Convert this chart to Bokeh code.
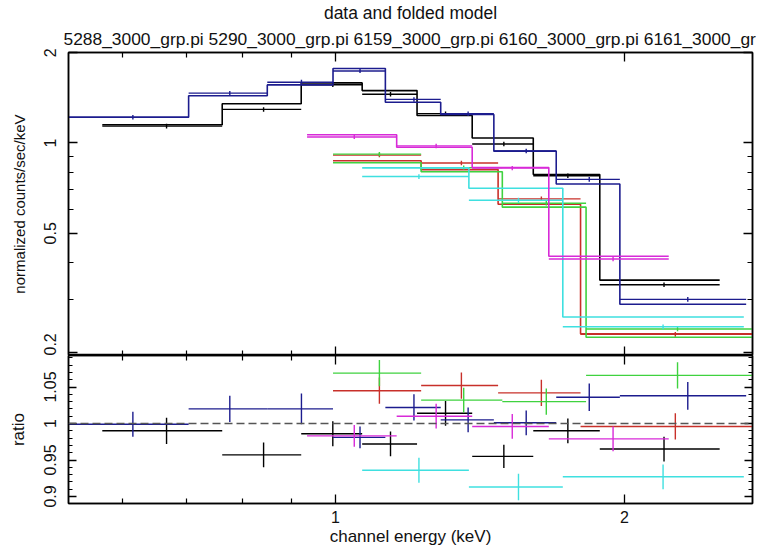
import numpy as np
from bokeh.plotting import figure
from bokeh.layouts import column
from bokeh.models import Range1d, FixedTicker, LogAxis, LinearAxis, Span, Title, CustomJSTickFormatter
from bokeh.embed import file_html
from bokeh.resources import INLINE

# Per-spectrum grouped channels: bin edges (keV), folded model (counts/s/keV),
# data/model ratio and its 1-sigma error.
black_lo = [0.5715, 0.762, 0.921, 1.066, 1.216, 1.388, 1.607, 1.885]
black_hi = [0.762, 0.921, 1.066, 1.216, 1.388, 1.607, 1.885, 2.513]
black_model = [1.150, 1.352, 1.586, 1.495, 1.235, 1.039, 0.785, 0.349]
black_ratio = [0.990, 0.957, 0.986, 0.972, 1.014, 0.955, 0.990, 0.965]
black_rerr = [0.018, 0.017, 0.017, 0.017, 0.017, 0.016, 0.017, 0.017]

red_lo = [0.994, 1.228, 1.477, 1.800]
red_hi = [1.228, 1.477, 1.800, 2.719]
red_model = [0.872, 0.815, 0.625, 0.231]
red_ratio = [1.045, 1.052, 1.042, 0.996]
red_rerr = [0.018, 0.018, 0.018, 0.018]

green_lo = [0.994, 1.228, 1.492, 1.824]
green_hi = [1.228, 1.492, 1.824, 2.719]
green_model = [0.859, 0.802, 0.611, 0.225]
green_ratio = [1.069, 1.032, 1.030, 1.066]
green_rerr = [0.018, 0.017, 0.018, 0.018]

blue_lo = [0.527, 0.703, 0.849, 0.994, 1.127, 1.287, 1.462, 1.698, 1.978]
blue_hi = [0.703, 0.849, 0.994, 1.127, 1.287, 1.462, 1.698, 1.978, 2.678]
blue_model = [1.219, 1.437, 1.562, 1.771, 1.367, 1.245, 0.939, 0.730, 0.290]
blue_ratio = [0.999, 1.020, 1.020, 0.981, 1.022, 1.005, 1.001, 1.036, 1.038]
blue_rerr = [0.017, 0.018, 0.021, 0.015, 0.018, 0.017, 0.017, 0.019, 0.019]

cyan_lo = [1.066, 1.377, 1.725]
cyan_hi = [1.377, 1.725, 2.663]
cyan_model = [0.826, 0.706, 0.263]
cyan_ratio = [0.936, 0.913, 0.927]
cyan_rerr = [0.017, 0.018, 0.017]

magenta_lo = [0.934, 1.158, 1.388, 1.668]
magenta_hi = [1.158, 1.388, 1.668, 2.224]
magenta_model = [1.065, 0.968, 0.828, 0.419]
magenta_ratio = [0.983, 1.010, 0.996, 0.979]
magenta_rerr = [0.015, 0.017, 0.017, 0.017]

spectra = [
    ("#000000", black_lo, black_hi, black_model, black_ratio, black_rerr),
    ("#c8302a", red_lo, red_hi, red_model, red_ratio, red_rerr),
    ("#3fd23f", green_lo, green_hi, green_model, green_ratio, green_rerr),
    ("#1c1c8e", blue_lo, blue_hi, blue_model, blue_ratio, blue_rerr),
    ("#3fe0e0", cyan_lo, cyan_hi, cyan_model, cyan_ratio, cyan_rerr),
    ("#d82ad8", magenta_lo, magenta_hi, magenta_model, magenta_ratio, magenta_rerr),
]

title_text = "data and folded model"
file_text = "5288_3000_grp.pi 5290_3000_grp.pi 6159_3000_grp.pi 6160_3000_grp.pi 6161_3000_gr"

energy_ticks = [1, 2]
energy_minor = [0.6, 0.7, 0.8, 0.9]
flux_ticks = [0.2, 0.5, 1, 2]
flux_minor = [0.3, 0.4, 0.6, 0.7, 0.8, 0.9]
ratio_ticks = [0.9, 0.95, 1.0, 1.05]
ratio_minor = [round(0.89 + 0.01 * i, 2) for i in range(21)]

FONT = "Liberation Sans"
TXT = "#111111"

all_lo = sum([s[1] for s in spectra], [])
all_hi = sum([s[2] for s in spectra], [])
xr = Range1d(min(all_lo), max(all_hi))


def style(ax, ticks, minor, show_labels, major_len=9, minor_len=5):
    ax.ticker = FixedTicker(ticks=ticks, minor_ticks=minor)
    ax.major_tick_in = major_len
    ax.major_tick_out = 0
    ax.minor_tick_in = minor_len
    ax.minor_tick_out = 0
    ax.axis_line_color = "black"
    ax.axis_line_width = 1.5
    ax.major_tick_line_color = "black"
    ax.minor_tick_line_color = "black"
    ax.major_tick_line_width = 1.3
    ax.minor_tick_line_width = 1.2
    if show_labels:
        ax.formatter = CustomJSTickFormatter(code="return tick.toString()")
        ax.major_label_text_font = FONT
        ax.major_label_text_font_size = "16px"
        ax.major_label_text_color = TXT
    else:
        # tick marks only, no numbers on this side
        ax.formatter = CustomJSTickFormatter(code="return ''")
        ax.major_label_standoff = 0
    ax.axis_label_text_font = FONT
    ax.axis_label_text_font_style = "normal"
    ax.axis_label_text_color = TXT


def base(height, yr, ytype, top_border, bottom_border):
    p = figure(width=771, height=height, x_axis_type="log", y_axis_type=ytype,
               x_range=xr, y_range=yr, output_backend="svg", toolbar_location=None,
               x_axis_location=None, y_axis_location=None,
               min_border_left=68, min_border_right=19,
               min_border_top=top_border, min_border_bottom=bottom_border)
    p.grid.visible = False
    p.outline_line_color = "black"
    p.outline_line_width = 1.5
    p.background_fill_color = "white"
    p.border_fill_color = "white"
    return p


# upper panel: data and folded model
top = base(355, Range1d(0.1956, 2.003), "log", 51, 0)
yl = LogAxis(axis_label="normalized counts/sec/keV")
style(yl, flux_ticks, flux_minor, True)
yl.major_label_orientation = "vertical"
yl.major_label_standoff = 12
yl.axis_label_text_font_size = "15px"
yl.axis_label_standoff = 14
top.add_layout(yl, "left")
yr_ax = LogAxis()
style(yr_ax, flux_ticks, flux_minor, False)
top.add_layout(yr_ax, "right")
xa = LogAxis()
style(xa, energy_ticks, energy_minor, False)
top.add_layout(xa, "above")
xb = LogAxis()
style(xb, energy_ticks, energy_minor, False)
top.add_layout(xb, "below")

top.add_layout(Title(text=file_text, align="left", offset=-5, text_font=FONT,
                     text_font_size="17.4px", text_font_style="normal",
                     text_color=TXT, standoff=8), "above")
top.add_layout(Title(text=title_text, align="center", text_font=FONT,
                     text_font_size="17.5px", text_font_style="normal",
                     text_color=TXT, standoff=0), "above")

# lower panel: data/model ratio
bot = base(194, Range1d(0.8904, 1.0932), "linear", 0, 46)
rl = LinearAxis(axis_label="ratio")
style(rl, ratio_ticks, ratio_minor, True, major_len=8, minor_len=4)
rl.major_label_orientation = "vertical"
rl.major_label_standoff = 12
rl.axis_label_text_font_size = "17px"
rl.axis_label_standoff = 14
bot.add_layout(rl, "left")
rr = LinearAxis()
style(rr, ratio_ticks, ratio_minor, False, major_len=8, minor_len=4)
bot.add_layout(rr, "right")
ba = LogAxis()
style(ba, energy_ticks, energy_minor, False)
bot.add_layout(ba, "above")
bb = LogAxis(axis_label="channel energy (keV)")
style(bb, energy_ticks, energy_minor, True)
bb.major_label_standoff = 7
bb.axis_label_text_font_size = "17px"
bb.axis_label_standoff = 1
bot.add_layout(bb, "below")

bot.add_layout(Span(location=1.0, dimension="width", line_color="#555555",
                    line_width=1.5, line_dash="8 4"))

for color, lo, hi, model, ratio, rerr in spectra:
    lo = np.array(lo)
    hi = np.array(hi)
    model = np.array(model)
    ratio = np.array(ratio)
    rerr = np.array(rerr)
    mid = (lo + hi) / 2.0
    data = model * ratio
    derr = model * rerr
    # data crosses: bin width and 1-sigma error
    top.segment(lo, data, hi, data, line_color=color, line_width=1.4)
    top.segment(mid, data - derr, mid, data + derr, line_color=color, line_width=1.4)
    # folded model as a histogram through the same bins
    xs = np.column_stack([lo, hi]).ravel()
    ys = np.repeat(model, 2)
    top.line(xs, ys, line_color=color, line_width=1.6)
    # ratio crosses
    bot.segment(lo, ratio, hi, ratio, line_color=color, line_width=1.4)
    bot.segment(mid, ratio - rerr, mid, ratio + rerr, line_color=color, line_width=1.4)

layout = column(top, bot, spacing=0)
open("out.html", "w").write(file_html(layout, INLINE))
